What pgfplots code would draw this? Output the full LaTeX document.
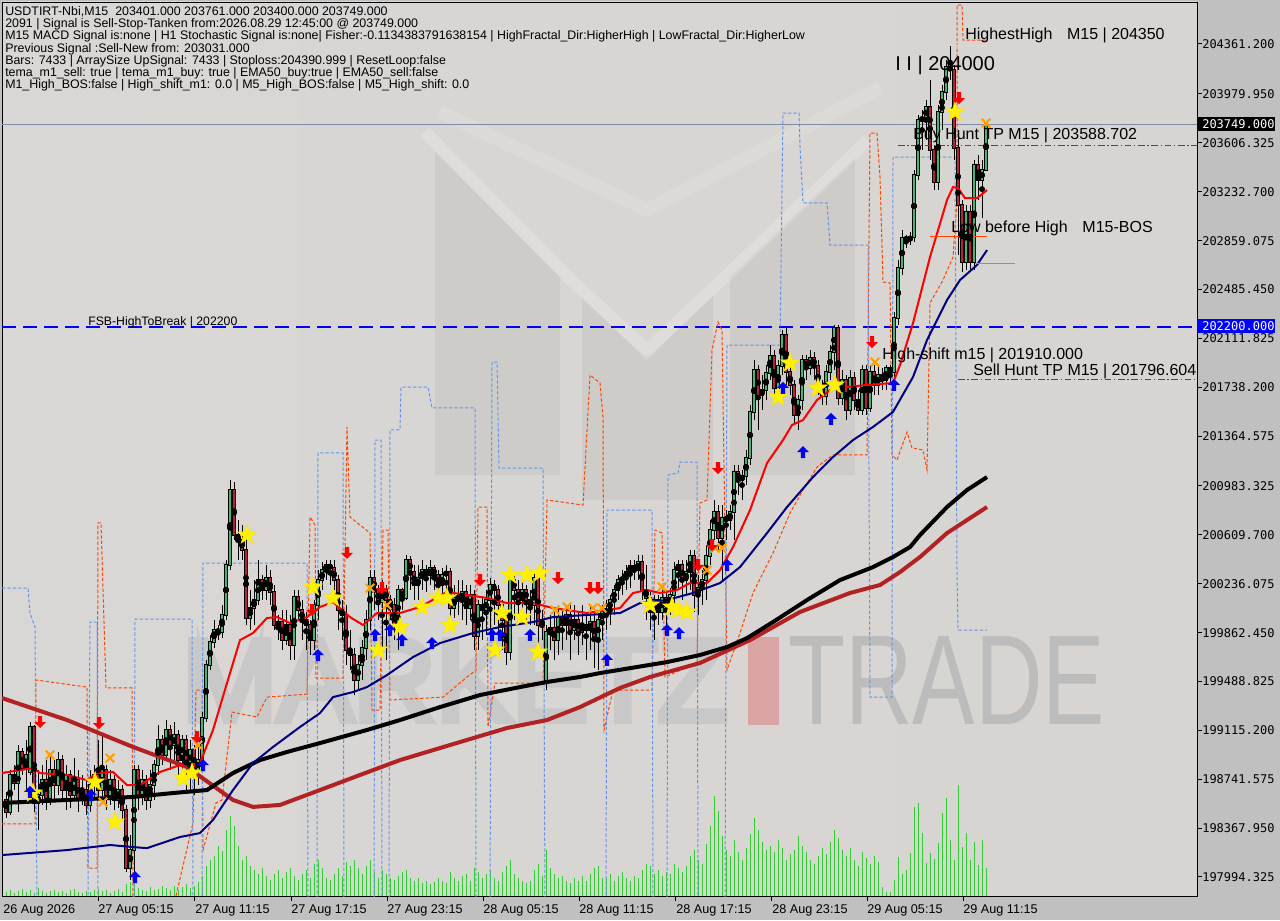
\documentclass[border=0pt]{standalone}
\usepackage{fontspec}
\setmainfont{Liberation Sans}
\newfontfamily\pricefont{DejaVu Sans Mono}
\newfontfamily\wmfont[FakeBold=6]{Liberation Sans}
\usepackage{graphicx}
\usepackage{pgfplots}
\pgfplotsset{compat=1.18}
\usepackage{pgfplotstable}

\definecolor{bgout}{HTML}{C0C0C0}
\definecolor{bgL}{HTML}{D9D7D5}
\definecolor{bgM}{HTML}{EEEEEE}
\definecolor{bgR}{HTML}{D7D4D1}
\definecolor{upc}{HTML}{3CB878}
\definecolor{dnc}{HTML}{B8203C}
\definecolor{emanavy}{HTML}{000080}
\definecolor{emabrown}{HTML}{B22222}
\definecolor{fracor}{HTML}{FF4500}
\definecolor{fracbl}{HTML}{6495ED}
\definecolor{vol}{HTML}{32CD32}
\definecolor{wm}{HTML}{C8C8C8}
\definecolor{wmt}{HTML}{BCBCBC}
\definecolor{wmred}{HTML}{DBA4A4}
\definecolor{bidline}{HTML}{7C8DA6}
\definecolor{hlblue}{HTML}{0000FF}
\definecolor{xorange}{HTML}{FFA000}

% filled five point star
\pgfdeclareplotmark{fstar}{%
  \pgfpathmoveto{\pgfpoint{0pt}{\pgfplotmarksize}}%
  \pgfpathlineto{\pgfpoint{-0.235\pgfplotmarksize}{0.324\pgfplotmarksize}}%
  \pgfpathlineto{\pgfpoint{-0.951\pgfplotmarksize}{0.309\pgfplotmarksize}}%
  \pgfpathlineto{\pgfpoint{-0.380\pgfplotmarksize}{-0.124\pgfplotmarksize}}%
  \pgfpathlineto{\pgfpoint{-0.588\pgfplotmarksize}{-0.809\pgfplotmarksize}}%
  \pgfpathlineto{\pgfpoint{0pt}{-0.4\pgfplotmarksize}}%
  \pgfpathlineto{\pgfpoint{0.588\pgfplotmarksize}{-0.809\pgfplotmarksize}}%
  \pgfpathlineto{\pgfpoint{0.380\pgfplotmarksize}{-0.124\pgfplotmarksize}}%
  \pgfpathlineto{\pgfpoint{0.951\pgfplotmarksize}{0.309\pgfplotmarksize}}%
  \pgfpathlineto{\pgfpoint{0.235\pgfplotmarksize}{0.324\pgfplotmarksize}}%
  \pgfpathclose\pgfusepathqfillstroke}
% arrows
\pgfdeclareplotmark{uarr}{%
  \pgfpathmoveto{\pgfpoint{0pt}{\pgfplotmarksize}}%
  \pgfpathlineto{\pgfpoint{\pgfplotmarksize}{0pt}}%
  \pgfpathlineto{\pgfpoint{0.35\pgfplotmarksize}{0pt}}%
  \pgfpathlineto{\pgfpoint{0.35\pgfplotmarksize}{-\pgfplotmarksize}}%
  \pgfpathlineto{\pgfpoint{-0.35\pgfplotmarksize}{-\pgfplotmarksize}}%
  \pgfpathlineto{\pgfpoint{-0.35\pgfplotmarksize}{0pt}}%
  \pgfpathlineto{\pgfpoint{-\pgfplotmarksize}{0pt}}%
  \pgfpathclose\pgfusepathqfill}
\pgfdeclareplotmark{darr}{%
  \pgfpathmoveto{\pgfpoint{0pt}{-\pgfplotmarksize}}%
  \pgfpathlineto{\pgfpoint{\pgfplotmarksize}{0pt}}%
  \pgfpathlineto{\pgfpoint{0.35\pgfplotmarksize}{0pt}}%
  \pgfpathlineto{\pgfpoint{0.35\pgfplotmarksize}{\pgfplotmarksize}}%
  \pgfpathlineto{\pgfpoint{-0.35\pgfplotmarksize}{\pgfplotmarksize}}%
  \pgfpathlineto{\pgfpoint{-0.35\pgfplotmarksize}{0pt}}%
  \pgfpathlineto{\pgfpoint{-\pgfplotmarksize}{0pt}}%
  \pgfpathclose\pgfusepathqfill}

% M15 candles: x (pixel column), open, high, low, close, d (1 = up)
\pgfplotstableread{
x o h l c d
6 198583 198644 198445 198491 0
10 198491 198812 198468 198774 1
14 198774 198850 198659 198712 0
18 198712 199003 198491 198950 1
22 198950 198980 198774 198827 0
26 198827 199041 198659 198927 1
30 198797 199179 198774 199140 1
34 199140 199156 198491 198560 0
38 198560 198812 198353 198621 1
42 198621 198850 198545 198735 1
46 198735 198888 198506 198598 0
50 198598 198927 198545 198812 1
54 198812 198888 198583 198697 0
58 198697 198950 198621 198888 1
62 198888 198927 198583 198659 0
66 198659 198850 198506 198774 1
70 198774 198812 198521 198621 0
74 198621 198903 198583 198735 1
78 198735 198812 198491 198583 0
82 198583 198774 198545 198659 1
86 198659 198735 198468 198545 0
90 198545 198812 198491 198697 1
94 198697 198850 198583 198774 1
98 198774 199041 198583 198659 0
102 198659 199080 198583 198812 1
106 198812 198850 198506 198621 0
110 198621 198812 198545 198735 1
114 198735 198774 198506 198583 0
118 198583 198735 198521 198659 1
122 198659 198697 198430 198506 0
126 198506 198545 198033 198063 0
130 198063 198315 197971 198200 1
134 198200 198850 198010 198812 1
138 198812 198850 198506 198621 0
142 198621 198812 198545 198735 1
146 198735 198774 198506 198583 0
150 198583 198812 198521 198697 1
154 198697 198888 198583 198850 1
158 198850 199156 198774 199041 1
162 199041 199080 198850 198927 0
166 198927 199194 198888 199118 1
170 199118 199156 198812 199003 0
174 199003 199179 198888 199080 1
178 199080 199118 198774 198888 0
182 198888 199080 198735 199041 1
186 199041 199080 198659 198850 0
190 198850 199041 198659 198965 1
194 198965 199003 198621 198812 0
198 198812 199003 198697 198888 1
202 198888 199255 198812 199209 1
206 199209 199653 199179 199615 1
210 199615 199844 199576 199790 1
214 199790 199958 199744 199882 1
218 199882 199920 199805 199867 0
222 199867 200073 199821 199997 1
226 199997 200417 199958 200379 1
230 200379 201028 200340 200952 1
234 200952 201013 200570 200608 0
238 200608 200723 200417 200570 0
242 200570 200684 200417 200493 0
246 200493 200646 199920 199974 0
250 199974 200188 199882 200050 1
254 200050 200264 199920 200111 1
258 200111 200417 200073 200264 1
262 200264 200302 200111 200188 0
266 200188 200379 200111 200279 1
270 200279 200340 200073 200173 0
274 200173 200226 199882 199920 0
278 199920 199997 199805 199943 1
282 199943 200035 199729 199805 0
286 199805 200035 199767 199920 1
290 199920 199997 199653 199767 0
294 199767 200188 199653 200134 1
298 200134 200188 199958 200035 0
302 200035 200111 199805 199958 0
306 199958 200020 199729 199920 0
310 199920 199958 199691 199805 0
314 199805 200111 199729 200073 1
318 200073 200340 199958 200264 1
322 200264 200402 200188 200340 1
326 200340 200417 200264 200379 1
330 200379 200417 200226 200356 0
334 200356 200417 200188 200264 0
338 200264 200302 199882 200035 0
342 200035 200111 199805 199997 0
346 199997 200073 199615 199729 0
350 199729 199882 199576 199691 0
354 199691 199744 199385 199500 0
358 199500 199691 199423 199615 1
362 199615 199805 199500 199744 1
366 199744 200035 199653 199958 1
370 199958 200340 199882 200279 1
374 200279 200340 200035 200188 0
378 200188 200226 199958 200096 0
382 200096 200264 199729 200188 1
386 200188 200226 199653 200111 0
390 200111 200150 199958 200073 0
394 200073 200127 199805 199920 0
398 199920 200226 199729 200188 1
402 200188 200203 200035 200127 0
406 200127 200455 200111 200417 1
410 200417 200447 200188 200325 0
414 200325 200379 200111 200226 0
418 200226 200379 200111 200279 1
422 200279 200417 200188 200340 1
426 200340 200379 200173 200302 0
430 200302 200417 200226 200356 1
434 200356 200379 200188 200302 0
438 200302 200340 200111 200226 0
442 200226 200356 200127 200302 1
446 200302 200379 200111 200325 1
450 200325 200356 199920 200050 0
454 200050 200226 199974 200127 1
458 200127 200264 199997 200111 0
462 200111 200264 199958 200173 1
466 200173 200226 199920 200050 0
470 200050 200226 199958 200150 1
474 200150 200188 199729 199836 0
478 199836 200111 199729 200073 1
482 200073 200127 199805 200035 0
486 200035 200188 199844 200111 1
490 200111 200279 199805 200226 1
494 200226 200264 199920 200188 0
498 200188 200226 199805 200073 0
502 200073 200111 199729 199958 0
506 199958 199997 199615 199714 0
510 199714 200302 199653 200264 1
514 200264 200302 199958 200188 0
518 200188 200264 199920 200111 0
522 200111 200264 199997 200188 1
526 200188 200226 199958 200111 0
530 200111 200188 199920 200073 0
534 200073 200340 199920 200279 1
538 200279 200325 199729 199920 0
542 199920 200035 199805 199958 1
546 199500 199920 199423 199867 1
550 199867 199997 199729 199897 1
554 199897 200035 199653 199805 0
558 199805 200073 199691 199974 1
562 199974 200035 199729 199920 0
566 199920 200073 199805 199997 1
570 199997 200073 199653 199882 0
574 199882 200073 199805 199958 1
578 199958 200020 199691 199867 0
582 199867 200073 199767 199920 1
586 199920 200020 199653 199882 0
590 199882 200073 199729 199943 1
594 199943 200035 199592 199805 0
598 199805 200035 199576 199958 1
602 199958 200073 199805 200020 1
606 200020 200111 199882 200035 1
610 200035 200150 199920 200111 1
614 200111 200226 199997 200188 1
618 200188 200302 200111 200264 1
622 200264 200340 200150 200279 1
626 200279 200379 200188 200325 1
630 200325 200417 200203 200371 1
634 200371 200417 200264 200340 0
638 200340 200455 200264 200402 1
642 200402 200455 200111 200188 0
646 200188 200379 199958 200127 0
650 200127 200188 199882 200020 0
654 200020 200150 199805 200111 1
658 200111 200150 199920 200020 0
662 200020 200188 199958 200127 1
666 200127 200188 199882 200073 0
670 200073 200203 199997 200150 1
674 200150 200402 200020 200340 1
678 200340 200417 200188 200379 1
682 200379 200417 200111 200264 0
686 200264 200417 200150 200325 1
690 200325 200493 200188 200447 1
694 200447 200493 200020 200150 0
698 200150 200302 199997 200203 1
702 200203 200340 200073 200264 1
706 200264 200531 200111 200447 1
710 200447 200723 200379 200646 1
714 200646 200876 200570 200784 1
718 200784 200837 200493 200585 0
722 200585 200837 200264 200738 1
726 200738 200799 200570 200723 0
730 200723 200837 200646 200784 1
734 200784 201143 200570 201090 1
738 201090 201143 200914 201028 0
742 201028 201105 200876 201059 1
746 201059 201258 200990 201197 1
750 201197 201602 201143 201549 1
754 201549 201946 201487 201869 1
758 201869 201907 201411 201678 0
762 201678 201831 201564 201716 1
766 201716 201907 201640 201846 1
770 201846 202060 201793 201976 1
774 201976 202022 201640 201732 0
778 201732 201946 201640 201900 1
782 201900 202175 201831 202137 1
786 202137 202190 201755 201854 0
790 201854 201907 201678 201755 0
794 201755 201793 201449 201525 0
798 201525 201678 201411 201640 1
802 201640 201984 201564 201946 1
806 201946 201984 201793 201885 0
810 201885 202022 201831 201961 1
814 201961 202007 201793 201900 0
818 201900 201946 201678 201732 0
822 201732 201793 201602 201670 0
826 201670 201907 201602 201854 1
830 201854 202060 201793 202007 1
834 202007 202213 201869 202190 1
838 202190 202213 201602 201655 0
842 201655 201869 201602 201793 1
846 201793 201831 201487 201564 0
850 201564 201869 201525 201808 1
854 201808 201854 201564 201640 0
858 201640 201716 201525 201564 0
862 201564 201907 201525 201869 1
866 201869 201907 201525 201579 0
870 201579 201907 201549 201854 1
874 201854 201907 201678 201755 0
878 201755 201907 201678 201831 1
882 201831 201885 201716 201793 0
886 201793 201907 201716 201885 1
890 201885 201907 201755 201854 0
894 201854 202313 201755 202266 1
898 202266 202710 202213 202648 1
902 202648 202939 202595 202878 1
906 202878 202901 202801 202863 0
910 202863 202924 202825 202886 1
914 202886 203398 202848 203359 1
918 203359 203818 203321 203780 1
922 203780 203856 203551 203795 1
926 203795 203933 203627 203879 1
930 203879 204086 203474 203551 0
934 203551 203589 203245 203306 0
938 203306 203895 203245 203841 1
942 203841 204047 203703 203994 1
946 203994 204238 203933 204185 1
950 204185 204353 204086 204162 0
954 204162 204200 203474 203566 0
958 203566 203703 202748 203130 0
962 203130 203168 202618 202695 0
966 202695 203130 202633 203077 1
970 203077 203130 202618 202695 0
974 202695 203474 202633 203436 1
978 203436 203513 203168 203321 0
982 203321 203474 203031 203398 1
986 203401 203761 203400 203749 1
}\candles

% tick volume (bar height, pixels)
\pgfplotstableread[row sep=\\]{
x v\\
6 4\\ 10 6\\ 14 3\\ 18 5\\ 22 7\\ 26 4\\ 30 6\\ 34 3\\ 38 8\\ 42 5\\
46 3\\ 50 5\\ 54 6\\ 58 4\\ 62 5\\ 66 3\\ 70 6\\ 74 7\\ 78 4\\ 82 3\\
86 5\\ 90 4\\ 94 6\\ 98 7\\ 102 5\\ 106 6\\ 110 3\\ 114 5\\ 118 7\\ 122 4\\
126 12\\ 130 14\\ 134 16\\ 138 8\\ 142 6\\ 146 5\\ 150 9\\ 154 6\\ 158 7\\ 162 10\\
166 8\\ 170 6\\ 174 10\\ 178 6\\ 182 9\\ 186 12\\ 190 8\\ 194 10\\ 198 14\\ 202 20\\
206 30\\ 210 36\\ 214 40\\ 218 50\\ 222 45\\ 226 66\\ 230 80\\ 234 70\\ 238 50\\ 242 36\\
246 40\\ 250 30\\ 254 26\\ 258 22\\ 262 28\\ 266 20\\ 270 16\\ 274 22\\ 278 26\\ 282 18\\
286 24\\ 290 28\\ 294 20\\ 298 16\\ 302 22\\ 306 26\\ 310 18\\ 314 32\\ 318 36\\ 322 28\\
326 18\\ 330 16\\ 334 22\\ 338 28\\ 342 20\\ 346 34\\ 350 30\\ 354 36\\ 358 28\\ 362 22\\
366 30\\ 370 36\\ 374 24\\ 378 18\\ 382 26\\ 386 22\\ 390 18\\ 394 16\\ 398 20\\ 402 24\\
406 26\\ 410 18\\ 414 15\\ 418 18\\ 422 13\\ 426 15\\ 430 12\\ 434 14\\ 438 18\\ 442 15\\
446 13\\ 450 24\\ 454 18\\ 458 15\\ 462 20\\ 466 22\\ 470 15\\ 474 28\\ 478 24\\ 482 18\\
486 22\\ 490 26\\ 494 18\\ 498 15\\ 502 24\\ 506 30\\ 510 36\\ 514 22\\ 518 18\\ 522 15\\
526 13\\ 530 15\\ 534 26\\ 538 32\\ 542 20\\ 546 46\\ 550 28\\ 554 22\\ 558 18\\ 562 20\\
566 15\\ 570 13\\ 574 18\\ 578 15\\ 582 20\\ 586 15\\ 590 22\\ 594 28\\ 598 30\\ 602 18\\
606 18\\ 610 22\\ 614 15\\ 618 20\\ 622 24\\ 626 18\\ 630 15\\ 634 20\\ 638 18\\ 642 26\\
646 32\\ 650 30\\ 654 22\\ 658 26\\ 662 20\\ 666 24\\ 670 22\\ 674 32\\ 678 28\\ 682 24\\
686 30\\ 690 40\\ 694 46\\ 698 36\\ 702 32\\ 706 52\\ 710 70\\ 714 100\\ 718 85\\ 722 60\\
726 46\\ 730 40\\ 734 56\\ 738 44\\ 742 36\\ 746 48\\ 750 62\\ 754 78\\ 758 66\\ 762 54\\
766 46\\ 770 50\\ 774 44\\ 778 56\\ 782 48\\ 786 36\\ 790 42\\ 794 46\\ 798 60\\ 802 50\\
806 44\\ 810 36\\ 814 32\\ 818 40\\ 822 48\\ 826 42\\ 830 54\\ 834 66\\ 838 58\\ 842 46\\
846 40\\ 850 48\\ 854 36\\ 858 30\\ 862 44\\ 866 38\\ 870 32\\ 874 40\\ 878 34\\ 882 9\\
886 4\\ 890 4\\ 894 16\\ 898 39\\ 902 22\\ 906 26\\ 910 43\\ 914 89\\ 918 93\\ 922 63\\
926 33\\ 930 43\\ 934 37\\ 938 53\\ 942 83\\ 946 98\\ 950 56\\ 954 36\\ 958 111\\ 962 49\\
966 63\\ 970 36\\ 974 54\\ 978 31\\ 982 56\\ 986 28\\
}\vols

\begin{document}
\begin{tikzpicture}
% backdrop, logo and watermark (pixel units, y down)
\begin{scope}[x=0.75pt,y=-0.75pt]
  \fill[bgout] (0,0) rectangle (1280,920);
  \shade[left color=bgL, middle color=bgM, right color=bgR] (2,2) rectangle (1197,896);
  \fill[black, opacity=0.045] (435,152) -- (560,277) -- (560,475) -- (435,475) -- cycle;
  \fill[black, opacity=0.045] (582,298) -- (647,360) -- (713,295) -- (713,500) -- (582,500) -- cycle;
  \fill[black, opacity=0.045] (730,277) -- (855,158) -- (855,475) -- (730,475) -- cycle;
  \draw[white, opacity=0.18, line width=9pt, line join=round] (425,132) -- (571,280) -- (647,350) -- (722,280) -- (868,140);
  \draw[white, opacity=0.12, line width=10pt, line join=round] (440,112) -- (647,210) -- (880,88);
  % watermark: heavy MARKETZ, red bar, light TRADE
  \node[anchor=south west, inner sep=0pt] at (182,721)
    {\resizebox{408.75pt}{60pt}{\textcolor{wm}{\wmfont MARKETZ}}};
  \fill[wmred] (748,637) rectangle (779,725);
  \node[anchor=south west, inner sep=0pt] at (788,725)
    {\resizebox{237.75pt}{66pt}{\textcolor{wmt}{TRADE}}};
\end{scope}

% volume histogram
\begin{axis}[at={(1.5pt,-672pt)}, anchor=south west, scale only axis,
  width=896.25pt, height=670.5pt, xmin=2, xmax=1197, ymin=0, ymax=894, hide axis]
  \addplot[ycomb, vol, line width=0.75pt, mark=none] table[x=x, y=v] {\vols};
\end{axis}

\begin{axis}[at={(1.5pt,-672pt)}, anchor=south west, scale only axis,
  width=896.25pt, height=670.5pt,
  xmin=2, xmax=1197, ymin=197849, ymax=204682,
  axis line style={black, line width=0.75pt},
  xtick={98,194,291,387,483,579,675,771,867,963},
  ytick={204361.2,203979.95,203606.325,203232.7,202859.075,202485.45,202111.825,201738.2,201364.575,200983.325,200609.7,200236.075,199862.45,199488.825,199115.2,198741.575,198367.95,197994.325},
  xticklabel=\empty, yticklabel=\empty,
  xtick pos=bottom, ytick pos=right, tick align=outside,
  major tick length=3.75pt, tick style={black, line width=0.75pt},
  scaled y ticks=false]

  % bid line and break level
  \addplot[bidline, line width=0.75pt, forget plot] coordinates {(2,203749) (1197,203749)};
  \addplot[hlblue, line width=1.2pt, dash pattern=on 10.5pt off 5.25pt, forget plot] coordinates {(2,202200) (1197,202200)};

  % fractal channels
  \addplot[fracor, line width=0.75pt, dash pattern=on 2.5pt off 1.5pt, forget plot] coordinates {
    (2,198400) (35,198400) (36,199500) (87,199446) (88,198063) (97,198063) (98,200700) (101,200700)
    (106,199439) (132,199439) (133,197818) (175,197818) (193,198407) (196,199423) (202,199423)
    (203,198200) (216,198560) (222,198583) (232,199255) (247,199232) (257,199217) (267,199369)
    (307,199392) (310,200746) (315,200684) (316,199515) (343,199515) (347,201434) (350,200746)
    (370,200623) (372,199270) (380,199270) (383,200646) (388,200646) (390,199347) (443,199369)
    (467,199523) (476,199576) (478,200822) (487,200822) (488,199141) (495,199477) (543,199477)
    (547,200876) (583,200837) (590,201831) (600,201770) (603,201510) (604,199118) (613,199423)
    (652,199423) (655,200646) (662,200623) (665,199523) (697,199630) (700,200853) (707,200876)
    (712,202022) (718,202236) (722,202175) (727,199576) (740,199859) (753,200165) (773,200470)
    (790,200776) (803,200952) (817,201128) (833,201220) (867,201220) (870,203680) (877,203680)
    (880,203344) (883,202542) (890,202534) (892,201220) (897,201181) (907,201395) (912,201273)
    (923,201258) (927,201105) (930,202381) (943,202557) (953,202733) (957,203168) (957,204659)
    (962,204659) (963,204391) (987,204391)};
  \addplot[fracbl, line width=0.75pt, dash pattern=on 2.5pt off 1.5pt, forget plot] coordinates {
    (2,200203) (28,200203) (30,200012) (35,199905) (37,197818) (88,197818) (90,199943) (97,199943)
    (98,197818) (134,197818) (135,199966) (192,199966) (193,197818) (202,197818) (203,200394)
    (307,200394) (308,197818) (317,197818) (318,201235) (343,201235) (344,197818) (374,197818)
    (375,201334) (381,201334) (382,197818) (389,197818) (390,201411) (400,201411) (401,201739)
    (428,201739) (432,201579) (475,201579) (476,197818) (490,197818) (492,201930) (497,201930)
    (499,201120) (543,201120) (545,197818) (606,197818) (607,200799) (652,200799) (653,197818)
    (667,197818) (668,201067) (678,201082) (680,201166) (697,201166) (698,197818) (725,197818)
    (727,202060) (780,202060) (783,203833) (799,203833) (800,203574) (803,203146) (827,203146)
    (830,202824) (868,202824) (870,199369) (892,199369) (893,203497) (955,203497) (957,200325)
    (958,199882) (987,199882)};

  % candles: wicks, then body outline, then coloured bodies (other rows parked just below the axis)
  \addplot[only marks, mark=none, forget plot,
    error bars/.cd, y dir=both, y explicit, error mark=none,
    error bar style={draw=black, solid, line width=0.75pt}]
    table[x=x, y expr=(\thisrow{h}+\thisrow{l})/2, y error expr=(\thisrow{h}-\thisrow{l})/2] {\candles};
  \addplot[only marks, mark=none, forget plot,
    error bars/.cd, y dir=both, y explicit, error mark=none,
    error bar style={draw=black, solid, line width=2.5pt}]
    table[x=x, y expr=(\thisrow{o}+\thisrow{c})/2, y error expr=abs(\thisrow{c}-\thisrow{o})/2+7] {\candles};
  \addplot[only marks, mark=none, forget plot,
    error bars/.cd, y dir=both, y explicit, error mark=none,
    error bar style={draw=upc, solid, line width=1.2pt}]
    table[x=x, y expr={ifthenelse(\thisrow{d}==1,(\thisrow{o}+\thisrow{c})/2,197700)},
      y error expr={ifthenelse(\thisrow{d}==1,abs(\thisrow{c}-\thisrow{o})/2,1)}] {\candles};
  \addplot[only marks, mark=none, forget plot,
    error bars/.cd, y dir=both, y explicit, error mark=none,
    error bar style={draw=dnc, solid, line width=1.2pt}]
    table[x=x, y expr={ifthenelse(\thisrow{d}==0,(\thisrow{o}+\thisrow{c})/2,197700)},
      y error expr={ifthenelse(\thisrow{d}==0,abs(\thisrow{c}-\thisrow{o})/2,1)}] {\candles};

  % moving averages
  \addplot[emabrown, line width=3pt, forget plot] coordinates {
    (2,199362) (67,199194) (133,198988) (187,198835) (233,198583) (253,198530) (280,198545)
    (320,198659) (360,198774) (400,198888) (450,199003) (507,199133) (547,199194) (580,199293)
    (620,199439) (650,199523) (700,199630) (750,199805) (800,200020) (850,200165) (880,200226)
    (900,200325) (920,200440) (947,200623) (987,200822)};
  \addplot[black, line width=3pt, forget plot] coordinates {
    (2,198560) (67,198583) (133,198606) (173,198636) (207,198659) (233,198789) (260,198888)
    (287,198950) (320,199018) (367,199118) (400,199194) (440,199293) (480,199385) (520,199446)
    (547,199485) (580,199523) (600,199553) (667,199637) (700,199691) (727,199752) (747,199820)
    (773,199943) (807,200111) (840,200264) (873,200363) (893,200440) (910,200516) (920,200608)
    (947,200822) (967,200952) (987,201051)};
  \addplot[emanavy, line width=1.5pt, forget plot] coordinates {
    (2,198162) (67,198200) (110,198239) (133,198223) (147,198215) (180,198300) (200,198330)
    (213,198430) (233,198659) (253,198865) (273,198988) (300,199141) (320,199247) (333,199369)
    (353,199408) (367,199446) (387,199538) (413,199675) (440,199782) (473,199859) (500,199905)
    (533,199943) (553,199981) (587,199997) (620,200012) (640,200088) (667,200111) (693,200165)
    (720,200241) (740,200363) (767,200623) (787,200822) (813,201051) (833,201204) (853,201334)
    (873,201434) (893,201549) (913,201816) (927,202098) (947,202404) (960,202557) (977,202672)
    (987,202786)};
  \addplot[red, line width=1.5pt, forget plot] coordinates {
    (2,198789) (33,198827) (40,198789) (67,198774) (87,198735) (97,198789) (113,198797)
    (127,198697) (140,198697) (160,198797) (180,198850) (200,198865) (213,199118) (227,199477)
    (240,199805) (253,199859) (267,199974) (277,199981) (290,199935) (307,199981) (320,200058)
    (333,200096) (350,199981) (363,199920) (377,200012) (400,200012) (420,200058) (447,200173)
    (467,200150) (487,200127) (507,200088) (533,200088) (553,200050) (587,200012) (620,200050)
    (633,200165) (647,200188) (660,200165) (677,200188) (690,200241) (707,200241) (720,200340)
    (733,200516) (750,200799) (767,201158) (783,201334) (792,201449) (803,201487) (817,201640)
    (833,201732) (847,201739) (867,201755) (893,201770) (900,201907) (913,202228) (930,202733)
    (947,203168) (953,203268) (958,203260) (965,203183) (977,203183) (987,203245)};

  % target and structure levels
  \addplot[red, line width=0.75pt, dash pattern=on 5pt off 2pt on 1pt off 2pt, forget plot] coordinates {(898,203588.7) (1197,203588.7)};
  \addplot[red, line width=0.75pt, dash pattern=on 5pt off 2pt on 1pt off 2pt, forget plot] coordinates {(958,201796.6) (1197,201796.6)};
  \addplot[yellow, line width=0.75pt, forget plot] coordinates {(947,204350) (987,204350)};
  \addplot[fracor, line width=0.75pt, forget plot] coordinates {(930,202886) (987,202886)};
  \addplot[fracbl, line width=0.75pt, forget plot] coordinates {(975,202687) (1015,202687)};

  % signals
  \addplot[only marks, mark=fstar, mark size=7.5pt, fill=yellow, draw=yellow!85!orange, line width=0.4pt, forget plot] coordinates {
    (33,198636) (95,198720) (115,198415) (183,198751) (192,198789) (247,200608) (313,200211)
    (333,200127) (378,199729) (400,199905) (422,200058) (438,200127) (447,200127) (450,199920)
    (495,199729) (502,200012) (510,200302) (527,200302) (540,200317) (522,199981) (538,199714)
    (650,200073) (672,200058) (678,200035) (687,200020) (778,201663) (790,201923) (818,201732)
    (835,201755) (955,203841)};
  \addplot[only marks, mark=x, mark size=4.5pt, xorange, line width=1.6pt, forget plot] coordinates {
    (50,198927) (103,198567) (110,198903) (198,199003) (370,200203) (387,200073) (555,200035)
    (567,200058) (593,200050) (602,200050) (662,200211) (707,200340) (715,200509) (722,200509)
    (875,201930) (986,203757)};
  \addplot[only marks, mark=darr, mark size=4.5pt, red, forget plot] coordinates {
    (40,199179) (99,199171) (197,199064) (312,200035) (347,200471) (382,200203) (480,200264)
    (558,200279) (590,200203) (598,200203) (698,200379) (712,200531) (718,201120) (872,202083)
    (959,203948)};
  \addplot[only marks, mark=uarr, mark size=4.5pt, blue, forget plot] coordinates {
    (30,198644) (91,198621) (135,197994) (203,198850) (318,199691) (375,199844) (390,199882)
    (402,199805) (432,199782) (492,199844) (500,199844) (530,199844) (607,199653) (667,199882)
    (679,199859) (727,200379) (803,201242) (831,201495) (783,201732) (894,201755)};
\end{axis}

% texts (pixel units, y down)
\begin{scope}[x=0.75pt,y=-0.75pt]
  \node[anchor=north west, inner sep=0pt, align=left, font=\fontsize{9.3}{9.2}\selectfont] at (5,6) {%
    USDTIRT-Nbi,M15\ \ 203401.000 203761.000 203400.000 203749.000\\
    2091 | Signal is Sell-Stop-Tanken from:2026.08.29 12:45:00 @ 203749.000\\
    M15 MACD Signal is:none | H1 Stochastic Signal is:none| Fisher:-0.1134383791638154 | HighFractal\_Dir:HigherHigh | LowFractal\_Dir:HigherLow\\
    Previous Signal :Sell-New from: 203031.000\\
    Bars: 7433 | ArraySize UpSignal: 7433 | Stoploss:204390.999 | ResetLoop:false\\
    tema\_m1\_sell: true | tema\_m1\_buy: true | EMA50\_buy:true | EMA50\_sell:false\\
    M1\_High\_BOS:false | High\_shift\_m1: 0.0 | M5\_High\_BOS:false | M5\_High\_shift: 0.0};

  \node[anchor=base west, inner sep=0pt, font=\fontsize{9.2}{9.2}\selectfont] at (88,325) {FSB-HighToBreak | 202200};
  \node[anchor=base west, inner sep=0pt, font=\fontsize{12}{12}\selectfont] at (965,40) {HighestHigh\hspace{11pt}M15 | 204350};
  \node[anchor=base west, inner sep=0pt, font=\fontsize{15}{15}\selectfont] at (895,71) {I I | 204000};
  \node[anchor=base west, inner sep=0pt, font=\fontsize{12}{12}\selectfont] at (913,140) {Buy Hunt TP M15 | 203588.702};
  \node[anchor=base west, inner sep=0pt, font=\fontsize{12}{12}\selectfont] at (951,232) {Low before High\hspace{11pt}M15-BOS};
  \node[anchor=base west, inner sep=0pt, font=\fontsize{12}{12}\selectfont] at (882,359) {High-shift m15 | 201910.000};
  \begin{scope}
    \clip (2,2) rectangle (1196,896);
    \node[anchor=base west, inner sep=0pt, font=\fontsize{12}{12}\selectfont] at (973,375) {Sell Hunt TP M15 | 201796.604};
  \end{scope}

  \foreach \v/\y in {204361.200/44, 203979.950/94, 203606.325/143, 203232.700/192, 202859.075/241,
      202485.450/289, 202111.825/338, 201738.200/387, 201364.575/436, 200983.325/486, 200609.700/535,
      200236.075/584, 199862.450/633, 199488.825/681, 199115.200/730, 198741.575/779, 198367.950/828,
      197994.325/877}
    \node[anchor=west, inner sep=0pt, font=\pricefont\fontsize{9}{9}\selectfont] at (1202,\y) {\v};

  \fill[black] (1197,117) rectangle (1275,131);
  \node[anchor=west, inner sep=0pt, text=white, font=\pricefont\fontsize{9}{9}\selectfont] at (1202,124) {203749.000};
  \fill[hlblue] (1197,319) rectangle (1275,333);
  \node[anchor=west, inner sep=0pt, text=white, font=\pricefont\fontsize{9}{9}\selectfont] at (1202,326) {202200.000};

  \foreach \x/\t in {3/26 Aug 2026, 98/27 Aug 05:15, 195/27 Aug 11:15, 291/27 Aug 17:15, 387/27 Aug 23:15,
      483/28 Aug 05:15, 579/28 Aug 11:15, 676/28 Aug 17:15, 772/28 Aug 23:15, 867/29 Aug 05:15, 963/29 Aug 11:15}
    \node[anchor=base west, inner sep=0pt, font=\fontsize{9.5}{9.5}\selectfont] at (\x,913) {\t};
\end{scope}
\pgfresetboundingbox
\path (0pt,0pt) rectangle (960pt,-690pt);
\end{tikzpicture}
\end{document}
